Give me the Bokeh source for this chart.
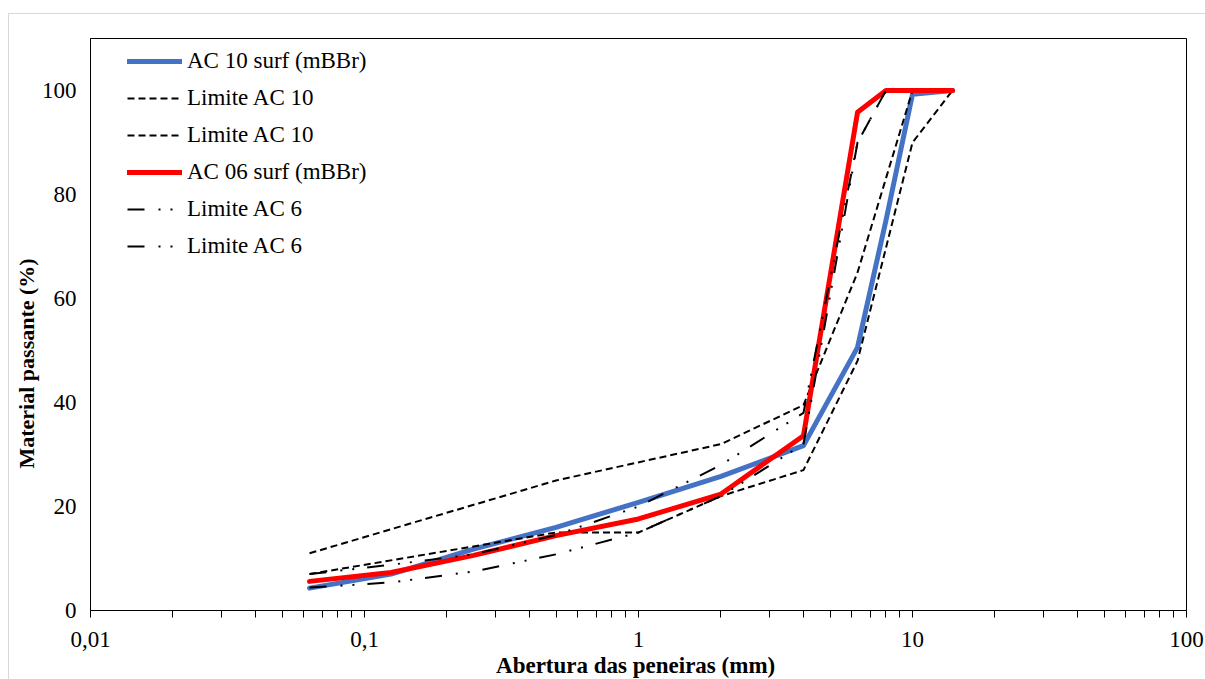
from bokeh.plotting import figure
from bokeh.models import (Range1d, FixedTicker, CustomJSTickFormatter, Legend, LegendItem, Title)
from bokeh.embed import file_html
from bokeh.resources import INLINE

# ---- data (sieve opening in mm, % passing) ----
sieves = [0.063, 0.125, 0.25, 0.5, 1, 2, 4, 6.3, 8, 10, 14]
ac10_mix = [4.3, 7.0, 11.8, 16.0, 20.8, 25.8, 31.7, 50.6, 75.0, 99.3, 100]
ac06_mix = [5.6, 7.3, 10.6, 14.4, 17.6, 22.4, 33.6, 95.8, 100, 100, 100]

ac10_up_sieves = [0.063, 0.5, 2, 4, 6.3, 10, 14]
ac10_up = [11, 25, 32, 39.5, 65, 100, 100]
ac10_lo_sieves = [0.063, 0.5, 1, 2, 4, 6.3, 10, 14]
ac10_lo = [7, 15, 15, 22, 27, 48, 90, 100]

ac6_sieves = [0.063, 0.125, 0.25, 0.5, 1, 2, 4, 6.3, 8]
ac6_up = [7, 8.8, 10.8, 14.5, 20, 28, 38, 90, 100]
ac6_lo = [4.4, 5.4, 7.5, 10.8, 15, 22, 32, 90, 100]

labels = ["AC 10 surf (mBBr)", "Limite AC 10", "Limite AC 10",
          "AC 06 surf (mBBr)", "Limite AC 6", "Limite AC 6"]
x_major = [0.01, 0.1, 1, 10, 100]
y_major = [0, 20, 40, 60, 80, 100]

FONT = "'Liberation Serif', 'Times New Roman', serif"

p = figure(x_axis_type="log", x_range=Range1d(0.01, 100), y_range=Range1d(0, 110),
           frame_width=1096, frame_height=572,
           min_border_left=81, min_border_top=24, min_border_right=19, min_border_bottom=60,
           output_backend="svg", toolbar_location=None,
           margin=(13, 0, 0, 8),
           styles={"border-left": "1px solid #d9d9d9", "border-top": "1px solid #d9d9d9"})
p.background_fill_color = "white"
p.border_fill_color = "white"
p.outline_line_color = "black"
p.outline_line_width = 1
p.xgrid.visible = False
p.ygrid.visible = False

r_blue = p.line(sieves, ac10_mix, line_color="#4472C4", line_width=5, line_cap="round", line_join="round")
r_up10 = p.line(ac10_up_sieves, ac10_up, line_color="black", line_width=2, line_dash="7 4")
r_lo10 = p.line(ac10_lo_sieves, ac10_lo, line_color="black", line_width=2, line_dash="7 4")
r_red = p.line(sieves, ac06_mix, line_color="#FF0000", line_width=5, line_cap="round", line_join="round")
AC6_DASH = "17 14 2 10 2 13"
r_up6 = p.line(ac6_sieves, ac6_up, line_color="black", line_width=2, line_dash=AC6_DASH)
r_lo6 = p.line(ac6_sieves, ac6_lo, line_color="black", line_width=2, line_dash=AC6_DASH)

renderers = [r_blue, r_up10, r_lo10, r_red, r_up6, r_lo6]
legend = Legend(items=[LegendItem(label=l, renderers=[r]) for l, r in zip(labels, renderers)],
                location=(37, 351), padding=0, margin=0, spacing=11,
                glyph_width=55, glyph_height=26, label_height=26, label_standoff=5,
                label_text_font=FONT, label_text_font_size="23px", label_text_color="black",
                border_line_color=None, background_fill_alpha=0)
p.add_layout(legend, "center")

# x axis
xa = p.xaxis[0]
xa.ticker = FixedTicker(ticks=x_major,
                        minor_ticks=[m * 10 ** e for e in range(-2, 2) for m in range(2, 10)])
xa.formatter = CustomJSTickFormatter(code="const v = parseFloat(tick.toPrecision(6)); return v.toString().replace('.', ',');")
xa.major_tick_out = 7
xa.minor_tick_out = 7
xa.major_tick_in = 0
xa.minor_tick_in = 0
xa.major_tick_line_color = "black"
xa.minor_tick_line_color = "black"
xa.axis_line_color = "black"
xa.major_label_standoff = 14
xa.major_label_text_font = FONT
xa.major_label_text_font_size = "23px"
xa.major_label_text_color = "black"
xa.axis_label = "Abertura  das peneiras (mm)"
xa.axis_label_text_font = FONT
xa.axis_label_text_font_size = "23px"
xa.axis_label_text_font_style = "bold"
xa.axis_label_text_color = "black"
xa.axis_label_standoff = 3

# y axis
ya = p.yaxis[0]
ya.ticker = FixedTicker(ticks=y_major)
ya.major_tick_out = 0
ya.major_tick_in = 0
ya.minor_tick_out = 0
ya.minor_tick_in = 0
ya.axis_line_color = "black"
ya.major_label_standoff = 14
ya.major_label_text_font = FONT
ya.major_label_text_font_size = "23px"
ya.major_label_text_color = "black"

ytitle = Title(text="Material passante (%)", align="left", offset=142, standoff=0,
               text_font=FONT, text_font_size="22px", text_font_style="bold",
               text_color="black")
p.add_layout(ytitle, "left")

open("out.html", "w").write(file_html(p, INLINE))
